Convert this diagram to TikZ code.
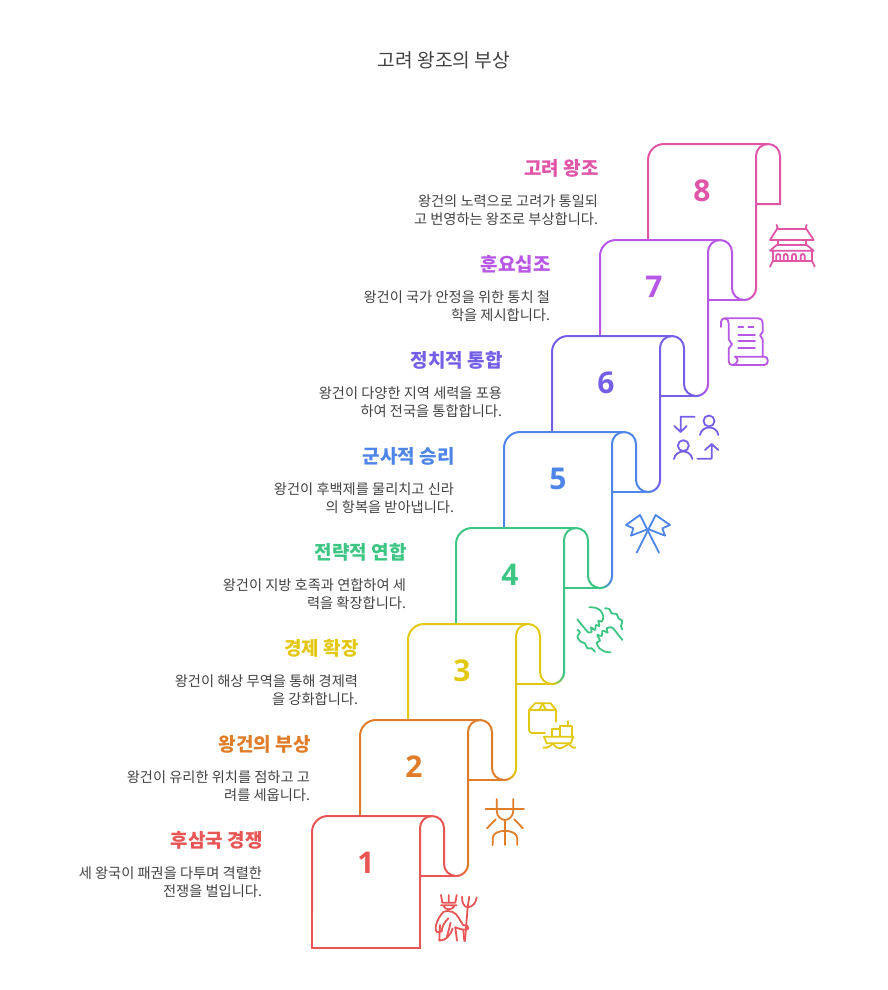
\documentclass[tikz,border=0pt]{standalone}
\usepackage{fontspec}
\setmainfont{Noto Sans CJK KR}
\newfontfamily\digitfont{Open Sans}
\definecolor{col1}{HTML}{E85555}
\definecolor{col2}{HTML}{E07D2A}
\definecolor{col3}{HTML}{E3C812}
\definecolor{col4}{HTML}{3CC583}
\definecolor{col5}{HTML}{4E85E8}
\definecolor{col6}{HTML}{7360E6}
\definecolor{col7}{HTML}{B856E6}
\definecolor{col8}{HTML}{E055A8}
\definecolor{bodygrey}{HTML}{424242}
\tikzset{
  roll/.style={line width=2pt},
  heading/.style={anchor=east, inner sep=0pt, font=\fontsize{19}{22}\selectfont\bfseries},
  bodytext/.style={anchor=east, inner sep=0pt, align=right, text=bodygrey, font=\fontsize{14.25}{18}\selectfont},
  numeral/.style={inner sep=0pt, font=\fontsize{30}{34}\selectfont\digitfont\bfseries},
  icon/.style={shift={#1}, x=.3333pt, y=-.3333pt, line width=1.8pt, line cap=round, line join=round}
}
\begin{document}
\begin{tikzpicture}[x=1pt, y=-1pt]
    \useasboundingbox (0,0) rectangle (888,990);
    % Title
    \node[text=bodygrey, font=\fontsize{19.2}{22}\selectfont] (title) at (444,60) {고려 왕조의 부상};
    % Draw the rolled sheets, from the top one down
    \foreach \i/\thehead/\lineone/\linetwo in {
        8/고려 왕조/왕건의 노력으로 고려가 통일되/고 번영하는 왕조로 부상합니다.,
        7/훈요십조/왕건이 국가 안정을 위한 통치 철/학을 제시합니다.,
        6/정치적 통합/왕건이 다양한 지역 세력을 포용/하여 전국을 통합합니다.,
        5/군사적 승리/왕건이 후백제를 물리치고 신라/의 항복을 받아냅니다.,
        4/전략적 연합/왕건이 지방 호족과 연합하여 세/력을 확장합니다.,
        3/경제 확장/왕건이 해상 무역을 통해 경제력/을 강화합니다.,
        2/왕건의 부상/왕건이 유리한 위치를 점하고 고/려를 세웁니다.,
        1/후삼국 경쟁/세 왕국이 패권을 다투며 격렬한/전쟁을 벌입니다.} {
      \pgfmathsetmacro\xo{312+48*(\i-1)}
      \pgfmathsetmacro\yo{816-96*(\i-1)}
      \pgfmathtruncatemacro\prev{\i-1}
      \begin{scope}[shift={(\xo,\yo)}, roll, col\i]
        % left edge, top and outer side of the curl
        \ifnum\i=8
          \draw (0,96) [rounded corners=16pt] -- (0,0) [rounded corners=12pt] -- (132,0) [sharp corners] -- (132,60) -- (108,60);
        \else
          \draw (0,96) [rounded corners=16pt] -- (0,0) [rounded corners=12pt] -- (132,0) -- (132,60) -- (144,60);
          \draw (144,60) -- (108,60);
        \fi
        % inner side of the curl
        \ifnum\i=1
          \draw (0,96) -- (0,132) -- (108,132) -- (108,60);
          \draw [rounded corners=12pt] (108,60) -- (108,0) -- (120,0);
        \else
          \draw [rounded corners=12pt] (108,144) -- (108,0) -- (120,0);
          \foreach \k in {0,...,5} {
            \pgfmathsetmacro\share{100-\k*\k*100/25}
            \draw [line cap=round, color=col\i!\share!col\prev]
              ({96+12*cos(\k*15)},{144+12*sin(\k*15)}) -- ({96+12*cos((\k+1)*15)},{144+12*sin((\k+1)*15)});
          }
        \fi
        \node[numeral, text=col\i] (num\i) at (54,47) {\i};
        \node[heading, text=col\i] (head\i) at (-48.5,24) {\thehead};
        \node[bodytext] (body\i) at (-49,66) {\lineone\\\linetwo};
      \end{scope}
    }
    % Icon 1: figure with a trident
    \begin{scope}[icon={(300,790)}, col1]
      \draw (423,315) -- (427,338) -- (466,338) -- (470,315) (446,315) -- (446,336);
      \draw (423,346) -- (470,346) (430,346) .. controls (433,362) and (460,362) .. (464,346);
      \draw (503,352) -- (495,453) (508,320) -- (503,352);
      \draw (486,320) .. controls (486,340) and (492,350) .. (503,352);
      \draw (530,322) .. controls (528,340) and (518,350) .. (503,352);
      \draw (430,366) .. controls (412,385) and (405,410) .. (407,420) .. controls (408,428) and (415,428) .. (420,425);
      \draw (430,366) .. controls (450,358) and (468,368) .. (475,382) -- (490,406) .. controls (500,405) and (508,410) .. (505,416) .. controls (500,422) and (480,418) .. (466,412);
      \draw (445,385) .. controls (432,398) and (425,412) .. (425,425) (420,405) -- (418,452) .. controls (435,452) and (450,440) .. (458,415);
      \draw (452,398) -- (441,440) (466,412) -- (471,452) (490,420) -- (493,453);
    \end{scope}
    % Icon 2: forked figure
    \begin{scope}[icon={(300,790)}, col2]
      \draw (557,57) -- (672,57);
      \draw (590,27) -- (590,62) .. controls (590,80) and (605,90) .. (615,90) .. controls (625,90) and (640,80) .. (640,62) -- (640,27);
      \draw (615,90) -- (615,165);
      \draw (578,165) -- (578,145) .. controls (578,115) and (652,115) .. (652,145) -- (652,165);
      \draw (561,115) -- (587,88) (669,115) -- (643,88);
    \end{scope}
    % Icon 3: box and boat
    \begin{scope}[icon={(520,695)}, col3]
      \draw (27,45) -- (45,25) -- (92,25) -- (108,45) -- cycle;
      \draw (58,45) -- (68,25) -- (78,45);
      \draw [rounded corners=3pt] (27,45) -- (27,114) -- (75,114);
      \draw (108,45) -- (108,80);
      \draw (72,125) -- (160,125) -- (152,145) -- (80,145) -- cycle;
      \draw (96,125) -- (96,103) -- (120,103);
      \draw (120,125) -- (120,92) -- (155,92) -- (155,125);
      \draw (143,92) -- (143,78);
      \draw (70,158) .. controls (85,160) and (92,152) .. (98,146) .. controls (105,154) and (112,160) .. (118,160) .. controls (128,160) and (138,152) .. (145,146) .. controls (150,152) and (158,160) .. (166,158);
    \end{scope}
    % Icon 4: clasped hands
    \begin{scope}[icon={(560,500)}, col4]
      \draw plot[smooth] coordinates {(52,358) (68,378) (85,397) (95,395) (93,382) (105,390) (108,375) (118,378) (115,362) (125,365) (130,350) (122,332) (105,323) (88,322)};
      \draw plot[smooth] coordinates {(187,420) (165,392) (155,382) (140,385) (143,398) (128,392) (125,408) (112,405) (120,422) (110,428) (118,445) (135,455) (152,457)};
      \draw plot[smooth] coordinates {(135,325) (148,327) (155,340) (170,342) (175,355) (187,362) (183,378) (187,388)};
      \draw plot[smooth] coordinates {(52,390) (60,397) (52,410) (62,425) (75,430) (82,445) (95,445) (105,455)};
    \end{scope}
    % Icon 5: crossed flags
    \begin{scope}[icon={(560,500)}, col5]
      \draw (230,158) -- (287,45) -- (330,75) -- (307,85) -- (315,107) -- (266,88);
      \draw (297,158) -- (240,45) -- (198,75) -- (220,85) -- (213,107) -- (262,88);
    \end{scope}
    % Icon 6: two people swapping places
    \begin{scope}[icon={(660,300)}, col6]
      \draw (104,350) -- (62,350) -- (62,396) (43,378) -- (62,396) -- (80,378);
      \draw (147,363) circle[radius=5.5pt];
      \draw (120,405) .. controls (125,375) and (170,375) .. (175,405);
      \draw (70,437) circle[radius=5.5pt];
      \draw (42,477) .. controls (47,447) and (92,447) .. (97,477);
      \draw (112,476) -- (155,476) -- (155,432) (135,450) -- (155,432) -- (175,450);
    \end{scope}
    % Icon 7: paper scroll
    \begin{scope}[icon={(715,312)}, col7]
      \draw (18,45) -- (18,30) .. controls (18,22) and (24,19) .. (30,19) .. controls (37,19) and (41,26) .. (41,35) -- (41,82) -- (51,97) -- (41,110) -- (41,148) .. controls (41,155) and (46,159) .. (52,159) -- (148,159) .. controls (162,159) and (162,134) .. (148,134) -- (60,134);
      \draw (30,19) -- (130,19) .. controls (138,19) and (143,24) .. (143,32) -- (143,60) -- (135,70) -- (143,82) -- (143,134);
      \draw (52,159) .. controls (62,158) and (68,150) .. (68,145) .. controls (68,140) and (64,135) .. (60,134);
      \draw (70,45) -- (85,45) (100,45) -- (115,45);
      \draw (70,68) -- (120,68) (70,87) -- (120,87) (70,108) -- (120,108);
    \end{scope}
    % Icon 8: palace
    \begin{scope}[icon={(765,220)}, col8]
      \draw (35,15) .. controls (38,20) and (38,24) .. (36,27) (125,15) .. controls (122,20) and (122,24) .. (124,27);
      \draw (36,27) -- (124,27) -- (146,60) -- (15,60) -- cycle;
      \draw (38,60) -- (38,75) (122,60) -- (122,75);
      \draw (35,75) -- (125,75) -- (146,92) -- (15,92) -- cycle;
      \draw (25,92) -- (25,122) -- (140,122) -- (140,92);
      \foreach \wx in {34,56,81,107} {
        \draw (\wx,122) -- (\wx,108) .. controls (\wx,100) and (\wx+12,100) .. (\wx+12,108) -- (\wx+12,122);
      }
      \draw (15,140) .. controls (18,132) and (22,126) .. (25,122) (149,140) .. controls (146,132) and (143,126) .. (140,122);
    \end{scope}
  \end{tikzpicture}
\end{document}
